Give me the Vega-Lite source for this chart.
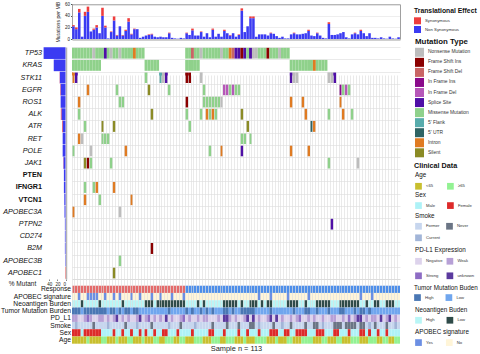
{
"$schema": "https://vega.github.io/schema/vega-lite/v6.json",
"width": 480, "height": 354,
"autosize": {"type": "none"},
"padding": 0,
"background": "white",
"config": {
  "font": "Liberation Sans",
  "view": {"stroke": null},
  "axis": {"labelFont": "Liberation Sans", "titleFont": "Liberation Sans", "labelColor": "#222", "titleColor": "#222", "titleFontWeight": "normal"},
  "legend": {"orient": "none", "padding": 0, "labelFont": "Liberation Sans", "titleFont": "Liberation Sans", "titleColor": "#111", "labelColor": "#333", "symbolType": "square", "symbolStrokeWidth": 0, "labelFontSize": 4.2, "titleFontSize": 6.3, "titleFontWeight": "normal", "symbolSize": 45, "labelOffset": 4, "direction": "vertical", "titleLimit": 200, "labelLimit": 100}
},
"datasets": {
"samples": [
{"s":0,"ns":22,"syn":2,"resp":"R","apo":"No","neo":"High","tmb":"High","pd":"Weak","smoke":"Former","sex":"Female","age":"<65"},
{"s":1,"ns":17,"syn":3,"resp":"R","apo":"No","neo":"High","tmb":"High","pd":"Weak","smoke":"Current","sex":"Female","age":"<65"},
{"s":2,"ns":46,"syn":6,"resp":"R","apo":"Yes","neo":"High","tmb":"High","pd":"Negative","smoke":"Former","sex":"Female","age":"<65"},
{"s":3,"ns":4,"syn":0,"resp":"R","apo":"No","neo":"Low","tmb":"Low","pd":"Negative","smoke":"Former","sex":"Male","age":"<65"},
{"s":4,"ns":40,"syn":7,"resp":"R","apo":"No","neo":"High","tmb":"High","pd":"Weak","smoke":"Former","sex":"Female","age":"<65"},
{"s":5,"ns":47,"syn":9,"resp":"R","apo":"Yes","neo":"High","tmb":"High","pd":"Strong","smoke":"Former","sex":"Female","age":"≥65"},
{"s":6,"ns":13,"syn":0,"resp":"R","apo":"Yes","neo":"High","tmb":"High","pd":"Weak","smoke":"Former","sex":"Female","age":"<65"},
{"s":7,"ns":16,"syn":2,"resp":"R","apo":"Yes","neo":"High","tmb":"High","pd":"Negative","smoke":"Never","sex":"Female","age":"<65"},
{"s":8,"ns":20,"syn":4,"resp":"R","apo":"Yes","neo":"High","tmb":"High","pd":"Negative","smoke":"Former","sex":"Female","age":"<65"},
{"s":9,"ns":10,"syn":0,"resp":"R","apo":"No","neo":"Low","tmb":"High","pd":"Weak","smoke":"Former","sex":"Female","age":"<65"},
{"s":10,"ns":40,"syn":14,"resp":"R","apo":"No","neo":"High","tmb":"High","pd":"Weak","smoke":"Former","sex":"Male","age":"≥65"},
{"s":11,"ns":20,"syn":3,"resp":"R","apo":"Yes","neo":"High","tmb":"High","pd":"Negative","smoke":"Former","sex":"Male","age":"≥65"},
{"s":12,"ns":1,"syn":0,"resp":"R","apo":"No","neo":"High","tmb":"Low","pd":"Weak","smoke":"Current","sex":"Male","age":"<65"},
{"s":13,"ns":12,"syn":1,"resp":"R","apo":"No","neo":"High","tmb":"High","pd":"Negative","smoke":"Former","sex":"Male","age":"<65"},
{"s":14,"ns":32,"syn":7,"resp":"R","apo":"Yes","neo":"High","tmb":"High","pd":"Weak","smoke":"Former","sex":"Female","age":"<65"},
{"s":15,"ns":6,"syn":1,"resp":"R","apo":"No","neo":"High","tmb":"Low","pd":"unknown","smoke":"Former","sex":"Male","age":"≥65"},
{"s":16,"ns":22,"syn":0,"resp":"R","apo":"Yes","neo":"High","tmb":"High","pd":"Negative","smoke":"Former","sex":"Male","age":"<65"},
{"s":17,"ns":6,"syn":1,"resp":"R","apo":"No","neo":"Low","tmb":"Low","pd":"Weak","smoke":"Former","sex":"Female","age":"<65"},
{"s":18,"ns":14,"syn":2,"resp":"R","apo":"No","neo":"High","tmb":"High","pd":"Negative","smoke":"Never","sex":"Male","age":"<65"},
{"s":19,"ns":30,"syn":6,"resp":"R","apo":"No","neo":"High","tmb":"High","pd":"Weak","smoke":"Former","sex":"Male","age":"≥65"},
{"s":20,"ns":8,"syn":1,"resp":"R","apo":"Yes","neo":"High","tmb":"Low","pd":"Negative","smoke":"Former","sex":"Female","age":"≥65"},
{"s":21,"ns":17,"syn":1,"resp":"R","apo":"No","neo":"High","tmb":"High","pd":"Negative","smoke":"Former","sex":"Male","age":"<65"},
{"s":22,"ns":17,"syn":0,"resp":"R","apo":"No","neo":"High","tmb":"High","pd":"Weak","smoke":"Current","sex":"Male","age":"<65"},
{"s":23,"ns":2,"syn":0,"resp":"R","apo":"Yes","neo":"High","tmb":"Low","pd":"unknown","smoke":"Former","sex":"Female","age":"<65"},
{"s":24,"ns":4,"syn":0,"resp":"R","apo":"No","neo":"High","tmb":"Low","pd":"Negative","smoke":"Former","sex":"Male","age":"≥65"},
{"s":25,"ns":6,"syn":0,"resp":"R","apo":"No","neo":"Low","tmb":"Low","pd":"Weak","smoke":"Former","sex":"Female","age":"<65"},
{"s":26,"ns":7,"syn":1,"resp":"R","apo":"No","neo":"Low","tmb":"Low","pd":"Strong","smoke":"Former","sex":"Male","age":"<65"},
{"s":27,"ns":8,"syn":1,"resp":"R","apo":"Yes","neo":"Low","tmb":"Low","pd":"Negative","smoke":"Never","sex":"Male","age":"<65"},
{"s":28,"ns":4,"syn":0,"resp":"R","apo":"No","neo":"High","tmb":"Low","pd":"Weak","smoke":"Former","sex":"Female","age":"≥65"},
{"s":29,"ns":3,"syn":0,"resp":"R","apo":"No","neo":"Low","tmb":"Low","pd":"Negative","smoke":"Former","sex":"Male","age":"≥65"},
{"s":30,"ns":4,"syn":0,"resp":"R","apo":"Yes","neo":"Low","tmb":"Low","pd":"Weak","smoke":"Former","sex":"Male","age":"<65"},
{"s":31,"ns":3,"syn":0,"resp":"R","apo":"No","neo":"Low","tmb":"Low","pd":"Negative","smoke":"Former","sex":"Female","age":"<65"},
{"s":32,"ns":3,"syn":0,"resp":"R","apo":"No","neo":"Low","tmb":"Low","pd":"unknown","smoke":"Former","sex":"Female","age":"≥65"},
{"s":33,"ns":10,"syn":1,"resp":"R","apo":"No","neo":"Low","tmb":"High","pd":"Negative","smoke":"Current","sex":"Male","age":"≥65"},
{"s":34,"ns":2,"syn":0,"resp":"R","apo":"Yes","neo":"Low","tmb":"Low","pd":"Weak","smoke":"Former","sex":"Male","age":"≥65"},
{"s":35,"ns":1,"syn":0,"resp":"R","apo":"No","neo":"Low","tmb":"Low","pd":"Negative","smoke":"Former","sex":"Male","age":"<65"},
{"s":36,"ns":0.5,"syn":0,"resp":"R","apo":"No","neo":"Low","tmb":"Low","pd":"Negative","smoke":"Former","sex":"Female","age":"<65"},
{"s":37,"ns":2,"syn":0,"resp":"R","apo":"No","neo":"Low","tmb":"Low","pd":"Weak","smoke":"Never","sex":"Male","age":"≥65"},
{"s":38,"ns":1,"syn":0,"resp":"R","apo":"Yes","neo":"Low","tmb":"Low","pd":"Strong","smoke":"Former","sex":"Male","age":"≥65"},
{"s":39,"ns":10,"syn":1,"resp":"NR","apo":"No","neo":"High","tmb":"High","pd":"Negative","smoke":"Former","sex":"Male","age":"<65"},
{"s":40,"ns":7,"syn":0,"resp":"NR","apo":"No","neo":"High","tmb":"Low","pd":"Weak","smoke":"Former","sex":"Male","age":"<65"},
{"s":41,"ns":15,"syn":3,"resp":"NR","apo":"No","neo":"High","tmb":"High","pd":"Negative","smoke":"Former","sex":"Female","age":"<65"},
{"s":42,"ns":6,"syn":0,"resp":"NR","apo":"No","neo":"High","tmb":"Low","pd":"Negative","smoke":"Current","sex":"Male","age":"≥65"},
{"s":43,"ns":6,"syn":0,"resp":"NR","apo":"No","neo":"Low","tmb":"Low","pd":"Weak","smoke":"Former","sex":"Male","age":"≥65"},
{"s":44,"ns":12,"syn":1,"resp":"NR","apo":"No","neo":"High","tmb":"High","pd":"Negative","smoke":"Former","sex":"Male","age":"≥65"},
{"s":45,"ns":4,"syn":0,"resp":"NR","apo":"No","neo":"Low","tmb":"Low","pd":"Weak","smoke":"Former","sex":"Male","age":"<65"},
{"s":46,"ns":10,"syn":0,"resp":"NR","apo":"No","neo":"High","tmb":"High","pd":"Weak","smoke":"Former","sex":"Male","age":"<65"},
{"s":47,"ns":3,"syn":0,"resp":"NR","apo":"No","neo":"High","tmb":"Low","pd":"Negative","smoke":"Former","sex":"Female","age":"<65"},
{"s":48,"ns":16,"syn":2,"resp":"NR","apo":"No","neo":"High","tmb":"High","pd":"Negative","smoke":"Never","sex":"Female","age":"≥65"},
{"s":49,"ns":4,"syn":0,"resp":"NR","apo":"No","neo":"High","tmb":"Low","pd":"Negative","smoke":"Former","sex":"Male","age":"≥65"},
{"s":50,"ns":9,"syn":0,"resp":"NR","apo":"No","neo":"High","tmb":"Low","pd":"Weak","smoke":"Former","sex":"Male","age":"≥65"},
{"s":51,"ns":4,"syn":0,"resp":"NR","apo":"No","neo":"High","tmb":"Low","pd":"Negative","smoke":"Former","sex":"Male","age":"<65"},
{"s":52,"ns":14,"syn":2,"resp":"NR","apo":"No","neo":"Low","tmb":"High","pd":"unknown","smoke":"Former","sex":"Female","age":"<65"},
{"s":53,"ns":10,"syn":0,"resp":"NR","apo":"No","neo":"Low","tmb":"High","pd":"unknown","smoke":"Never","sex":"Male","age":"≥65"},
{"s":54,"ns":6,"syn":1,"resp":"NR","apo":"No","neo":"Low","tmb":"Low","pd":"Weak","smoke":"Former","sex":"Male","age":"≥65"},
{"s":55,"ns":10,"syn":0,"resp":"NR","apo":"No","neo":"Low","tmb":"High","pd":"Negative","smoke":"Former","sex":"Male","age":"≥65"},
{"s":56,"ns":4,"syn":0,"resp":"NR","apo":"No","neo":"Low","tmb":"Low","pd":"Weak","smoke":"Former","sex":"Male","age":"<65"},
{"s":57,"ns":7,"syn":1,"resp":"NR","apo":"No","neo":"High","tmb":"Low","pd":"Negative","smoke":"Never","sex":"Female","age":"<65"},
{"s":58,"ns":49,"syn":4,"resp":"NR","apo":"No","neo":"Low","tmb":"High","pd":"Negative","smoke":"Former","sex":"Male","age":"<65"},
{"s":59,"ns":12,"syn":0,"resp":"NR","apo":"No","neo":"High","tmb":"High","pd":"Weak","smoke":"Former","sex":"Male","age":"≥65"},
{"s":60,"ns":22,"syn":0,"resp":"NR","apo":"No","neo":"High","tmb":"High","pd":"unknown","smoke":"Former","sex":"Female","age":"<65"},
{"s":61,"ns":36,"syn":3,"resp":"NR","apo":"No","neo":"Low","tmb":"High","pd":"Negative","smoke":"Never","sex":"Male","age":"<65"},
{"s":62,"ns":36,"syn":3,"resp":"NR","apo":"No","neo":"Low","tmb":"High","pd":"unknown","smoke":"Never","sex":"Male","age":"<65"},
{"s":63,"ns":4,"syn":0,"resp":"NR","apo":"No","neo":"Low","tmb":"Low","pd":"Negative","smoke":"Former","sex":"Male","age":"≥65"},
{"s":64,"ns":8,"syn":0,"resp":"NR","apo":"Yes","neo":"High","tmb":"Low","pd":"Weak","smoke":"Current","sex":"Female","age":"≥65"},
{"s":65,"ns":8,"syn":0,"resp":"NR","apo":"No","neo":"Low","tmb":"Low","pd":"Negative","smoke":"Former","sex":"Male","age":"≥65"},
{"s":66,"ns":8,"syn":0,"resp":"NR","apo":"No","neo":"High","tmb":"Low","pd":"Negative","smoke":"Former","sex":"Male","age":"≥65"},
{"s":67,"ns":6,"syn":0,"resp":"NR","apo":"No","neo":"Low","tmb":"Low","pd":"Weak","smoke":"Former","sex":"Male","age":"<65"},
{"s":68,"ns":10,"syn":1,"resp":"NR","apo":"Yes","neo":"Low","tmb":"High","pd":"unknown","smoke":"Former","sex":"Female","age":"<65"},
{"s":69,"ns":9,"syn":0,"resp":"NR","apo":"No","neo":"High","tmb":"Low","pd":"Negative","smoke":"Never","sex":"Female","age":"<65"},
{"s":70,"ns":5,"syn":0,"resp":"NR","apo":"No","neo":"High","tmb":"Low","pd":"unknown","smoke":"Former","sex":"Female","age":"≥65"},
{"s":71,"ns":2,"syn":0,"resp":"NR","apo":"No","neo":"High","tmb":"Low","pd":"Negative","smoke":"Former","sex":"Male","age":"<65"},
{"s":72,"ns":4,"syn":0,"resp":"NR","apo":"No","neo":"High","tmb":"Low","pd":"Weak","smoke":"Current","sex":"Male","age":"<65"},
{"s":73,"ns":1,"syn":0,"resp":"NR","apo":"No","neo":"High","tmb":"Low","pd":"Negative","smoke":"Former","sex":"Female","age":"<65"},
{"s":74,"ns":1,"syn":0,"resp":"NR","apo":"Yes","neo":"Low","tmb":"Low","pd":"Negative","smoke":"Former","sex":"Female","age":"≥65"},
{"s":75,"ns":8,"syn":0,"resp":"NR","apo":"No","neo":"Low","tmb":"Low","pd":"Weak","smoke":"Never","sex":"Male","age":"≥65"},
{"s":76,"ns":10,"syn":1,"resp":"NR","apo":"No","neo":"Low","tmb":"High","pd":"Negative","smoke":"Former","sex":"Male","age":"<65"},
{"s":77,"ns":8,"syn":0,"resp":"NR","apo":"No","neo":"Low","tmb":"Low","pd":"Weak","smoke":"Former","sex":"Female","age":"<65"},
{"s":78,"ns":8,"syn":0,"resp":"NR","apo":"No","neo":"High","tmb":"Low","pd":"Strong","smoke":"Former","sex":"Female","age":"<65"},
{"s":79,"ns":9,"syn":0,"resp":"NR","apo":"No","neo":"High","tmb":"Low","pd":"Negative","smoke":"Former","sex":"Female","age":"≥65"},
{"s":80,"ns":10,"syn":0,"resp":"NR","apo":"No","neo":"Low","tmb":"High","pd":"Negative","smoke":"Never","sex":"Female","age":"≥65"},
{"s":81,"ns":14,"syn":2,"resp":"NR","apo":"Yes","neo":"High","tmb":"High","pd":"Weak","smoke":"Former","sex":"Male","age":"≥65"},
{"s":82,"ns":6,"syn":0,"resp":"NR","apo":"No","neo":"High","tmb":"Low","pd":"Negative","smoke":"Former","sex":"Male","age":"≥65"},
{"s":83,"ns":5,"syn":0,"resp":"NR","apo":"No","neo":"High","tmb":"Low","pd":"Weak","smoke":"Never","sex":"Male","age":"<65"},
{"s":84,"ns":10,"syn":1,"resp":"NR","apo":"No","neo":"Low","tmb":"High","pd":"Negative","smoke":"Never","sex":"Female","age":"<65"},
{"s":85,"ns":6,"syn":0,"resp":"NR","apo":"No","neo":"Low","tmb":"Low","pd":"Negative","smoke":"Former","sex":"Female","age":"<65"},
{"s":86,"ns":2,"syn":0,"resp":"NR","apo":"No","neo":"Low","tmb":"Low","pd":"Weak","smoke":"Current","sex":"Female","age":"≥65"},
{"s":87,"ns":1,"syn":0,"resp":"NR","apo":"No","neo":"Low","tmb":"Low","pd":"Negative","smoke":"Former","sex":"Male","age":"≥65"},
{"s":88,"ns":26,"syn":3,"resp":"NR","apo":"No","neo":"Low","tmb":"High","pd":"Negative","smoke":"Former","sex":"Male","age":"<65"},
{"s":89,"ns":7,"syn":0,"resp":"NR","apo":"No","neo":"High","tmb":"Low","pd":"Weak","smoke":"Former","sex":"Male","age":"<65"},
{"s":90,"ns":7,"syn":0,"resp":"NR","apo":"No","neo":"High","tmb":"Low","pd":"Weak","smoke":"Never","sex":"Female","age":"<65"},
{"s":91,"ns":8,"syn":0,"resp":"NR","apo":"No","neo":"High","tmb":"Low","pd":"Negative","smoke":"Never","sex":"Female","age":"≥65"},
{"s":92,"ns":10,"syn":0,"resp":"NR","apo":"No","neo":"Low","tmb":"High","pd":"Negative","smoke":"Never","sex":"Male","age":"≥65"},
{"s":93,"ns":12,"syn":0,"resp":"NR","apo":"No","neo":"Low","tmb":"High","pd":"Weak","smoke":"Former","sex":"Male","age":"<65"},
{"s":94,"ns":3,"syn":0,"resp":"NR","apo":"No","neo":"Low","tmb":"Low","pd":"Negative","smoke":"Never","sex":"Male","age":"<65"},
{"s":95,"ns":1,"syn":0,"resp":"NR","apo":"No","neo":"Low","tmb":"Low","pd":"Strong","smoke":"Never","sex":"Female","age":"<65"},
{"s":96,"ns":8,"syn":0,"resp":"NR","apo":"No","neo":"Low","tmb":"Low","pd":"Negative","smoke":"Never","sex":"Male","age":"≥65"},
{"s":97,"ns":10,"syn":1,"resp":"NR","apo":"No","neo":"Low","tmb":"High","pd":"Weak","smoke":"Never","sex":"Male","age":"≥65"},
{"s":98,"ns":8,"syn":0,"resp":"NR","apo":"No","neo":"Low","tmb":"Low","pd":"unknown","smoke":"Former","sex":"Male","age":"≥65"},
{"s":99,"ns":14,"syn":2,"resp":"NR","apo":"Yes","neo":"High","tmb":"High","pd":"unknown","smoke":"Never","sex":"Female","age":"<65"},
{"s":100,"ns":10,"syn":0,"resp":"NR","apo":"No","neo":"High","tmb":"High","pd":"Negative","smoke":"Never","sex":"Female","age":"<65"},
{"s":101,"ns":5,"syn":0,"resp":"NR","apo":"No","neo":"Low","tmb":"Low","pd":"Weak","smoke":"Former","sex":"Male","age":"<65"},
{"s":102,"ns":10,"syn":0,"resp":"NR","apo":"No","neo":"High","tmb":"High","pd":"Negative","smoke":"Current","sex":"Female","age":"≥65"},
{"s":103,"ns":2,"syn":0,"resp":"NR","apo":"Yes","neo":"High","tmb":"Low","pd":"Weak","smoke":"Former","sex":"Male","age":"≥65"},
{"s":104,"ns":2,"syn":0,"resp":"NR","apo":"No","neo":"Low","tmb":"Low","pd":"Weak","smoke":"Never","sex":"Male","age":"≥65"},
{"s":105,"ns":1,"syn":0,"resp":"NR","apo":"No","neo":"Low","tmb":"Low","pd":"Negative","smoke":"Former","sex":"Female","age":"<65"},
{"s":106,"ns":3,"syn":0,"resp":"NR","apo":"No","neo":"High","tmb":"Low","pd":"unknown","smoke":"Former","sex":"Male","age":"<65"},
{"s":107,"ns":1,"syn":0,"resp":"NR","apo":"No","neo":"High","tmb":"Low","pd":"Negative","smoke":"Former","sex":"Male","age":"≥65"},
{"s":108,"ns":0.5,"syn":0,"resp":"NR","apo":"No","neo":"Low","tmb":"Low","pd":"Weak","smoke":"Never","sex":"Female","age":"≥65"},
{"s":109,"ns":4,"syn":0,"resp":"NR","apo":"No","neo":"Low","tmb":"Low","pd":"unknown","smoke":"Former","sex":"Male","age":"<65"},
{"s":110,"ns":1,"syn":0,"resp":"NR","apo":"No","neo":"Low","tmb":"Low","pd":"Negative","smoke":"Former","sex":"Male","age":"<65"},
{"s":111,"ns":0.5,"syn":0,"resp":"NR","apo":"No","neo":"High","tmb":"Low","pd":"Weak","smoke":"Current","sex":"Male","age":"≥65"},
{"s":112,"ns":3,"syn":0,"resp":"NR","apo":"No","neo":"High","tmb":"Low","pd":"Negative","smoke":"Former","sex":"Male","age":"≥65"}
],
"muts": [
{"s":0,"g":"TP53","t":"Missense Mutation"},{"s":1,"g":"TP53","t":"Missense Mutation"},{"s":2,"g":"TP53","t":"Missense Mutation"},{"s":3,"g":"TP53","t":"Missense Mutation"},{"s":4,"g":"TP53","t":"Missense Mutation"},{"s":5,"g":"TP53","t":"Missense Mutation"},{"s":6,"g":"TP53","t":"Missense Mutation"},{"s":7,"g":"TP53","t":"Nonsense Mutation"},{"s":8,"g":"TP53","t":"Missense Mutation"},{"s":9,"g":"TP53","t":"Missense Mutation"},{"s":10,"g":"TP53","t":"Missense Mutation"},{"s":11,"g":"TP53","t":"Splice Site"},{"s":12,"g":"TP53","t":"Missense Mutation"},{"s":13,"g":"TP53","t":"Nonsense Mutation"},{"s":14,"g":"TP53","t":"Missense Mutation"},{"s":15,"g":"TP53","t":"Missense Mutation"},{"s":16,"g":"TP53","t":"Nonsense Mutation"},{"s":17,"g":"TP53","t":"Missense Mutation"},{"s":18,"g":"TP53","t":"Missense Mutation"},{"s":19,"g":"TP53","t":"Missense Mutation"},{"s":20,"g":"TP53","t":"Missense Mutation"},{"s":21,"g":"TP53","t":"Intron"},{"s":22,"g":"TP53","t":"Missense Mutation"},{"s":23,"g":"TP53","t":"Missense Mutation"},{"s":24,"g":"TP53","t":"Missense Mutation"},
{"s":39,"g":"TP53","t":"Missense Mutation"},{"s":40,"g":"TP53","t":"Missense Mutation"},{"s":41,"g":"TP53","t":"Frame Shift Del"},{"s":42,"g":"TP53","t":"Missense Mutation"},{"s":43,"g":"TP53","t":"Missense Mutation"},{"s":44,"g":"TP53","t":"Nonsense Mutation"},{"s":45,"g":"TP53","t":"Missense Mutation"},{"s":46,"g":"TP53","t":"Missense Mutation"},{"s":47,"g":"TP53","t":"Missense Mutation"},{"s":48,"g":"TP53","t":"Missense Mutation"},{"s":49,"g":"TP53","t":"Missense Mutation"},{"s":50,"g":"TP53","t":"Missense Mutation"},{"s":51,"g":"TP53","t":"Nonsense Mutation"},{"s":52,"g":"TP53","t":"Missense Mutation"},{"s":53,"g":"TP53","t":"Missense Mutation"},{"s":54,"g":"TP53","t":"Intron"},{"s":55,"g":"TP53","t":"Frame Shift Del"},{"s":56,"g":"TP53","t":"Splice Site"},{"s":57,"g":"TP53","t":"Splice Site"},{"s":58,"g":"TP53","t":"Frame Shift Ins"},{"s":59,"g":"TP53","t":"Splice Site"},{"s":60,"g":"TP53","t":"Missense Mutation"},{"s":61,"g":"TP53","t":"Splice Site"},{"s":62,"g":"TP53","t":"Nonsense Mutation"},{"s":63,"g":"TP53","t":"Nonsense Mutation"},{"s":64,"g":"TP53","t":"Missense Mutation"},{"s":65,"g":"TP53","t":"Missense Mutation"},{"s":66,"g":"TP53","t":"Missense Mutation"},{"s":67,"g":"TP53","t":"Frame Shift Ins"},{"s":68,"g":"TP53","t":"Missense Mutation"},{"s":69,"g":"TP53","t":"Missense Mutation"},{"s":70,"g":"TP53","t":"Missense Mutation"},{"s":71,"g":"TP53","t":"Nonsense Mutation"},{"s":72,"g":"TP53","t":"Missense Mutation"},{"s":73,"g":"TP53","t":"Missense Mutation"},{"s":74,"g":"TP53","t":"Missense Mutation"},
{"s":0,"g":"KRAS","t":"Missense Mutation"},{"s":1,"g":"KRAS","t":"Missense Mutation"},{"s":2,"g":"KRAS","t":"Missense Mutation"},{"s":3,"g":"KRAS","t":"Missense Mutation"},{"s":4,"g":"KRAS","t":"Missense Mutation"},{"s":5,"g":"KRAS","t":"Missense Mutation"},{"s":6,"g":"KRAS","t":"Missense Mutation"},{"s":7,"g":"KRAS","t":"Missense Mutation"},{"s":8,"g":"KRAS","t":"Missense Mutation"},{"s":9,"g":"KRAS","t":"Missense Mutation"},{"s":25,"g":"KRAS","t":"Missense Mutation"},{"s":26,"g":"KRAS","t":"Missense Mutation"},{"s":27,"g":"KRAS","t":"Missense Mutation"},{"s":28,"g":"KRAS","t":"Missense Mutation"},{"s":29,"g":"KRAS","t":"Missense Mutation"},{"s":39,"g":"KRAS","t":"Missense Mutation"},{"s":40,"g":"KRAS","t":"Missense Mutation"},{"s":41,"g":"KRAS","t":"Missense Mutation"},{"s":42,"g":"KRAS","t":"Missense Mutation"},{"s":43,"g":"KRAS","t":"Missense Mutation"},{"s":75,"g":"KRAS","t":"Missense Mutation"},{"s":76,"g":"KRAS","t":"Missense Mutation"},{"s":77,"g":"KRAS","t":"Missense Mutation"},{"s":78,"g":"KRAS","t":"Missense Mutation"},{"s":79,"g":"KRAS","t":"Missense Mutation"},{"s":80,"g":"KRAS","t":"Missense Mutation"},{"s":81,"g":"KRAS","t":"Missense Mutation"},{"s":82,"g":"KRAS","t":"Missense Mutation"},{"s":83,"g":"KRAS","t":"Intron"},{"s":84,"g":"KRAS","t":"Missense Mutation"},{"s":85,"g":"KRAS","t":"Missense Mutation"},{"s":86,"g":"KRAS","t":"Missense Mutation"},{"s":87,"g":"KRAS","t":"Missense Mutation"},
{"s":0,"g":"STK11","t":"Intron"},{"s":1,"g":"STK11","t":"Splice Site"},{"s":25,"g":"STK11","t":"Missense Mutation"},{"s":30,"g":"STK11","t":"5' Flank"},{"s":31,"g":"STK11","t":"Nonsense Mutation"},{"s":32,"g":"STK11","t":"Splice Site"},{"s":39,"g":"STK11","t":"Frame Shift Ins"},{"s":40,"g":"STK11","t":"Frame Shift Ins"},{"s":44,"g":"STK11","t":"Nonsense Mutation"},{"s":75,"g":"STK11","t":"Splice Site"},{"s":76,"g":"STK11","t":"Nonsense Mutation"},{"s":77,"g":"STK11","t":"Nonsense Mutation"},{"s":88,"g":"STK11","t":"Nonsense Mutation"},{"s":89,"g":"STK11","t":"Nonsense Mutation"},{"s":90,"g":"STK11","t":"Splice Site"},
{"s":5,"g":"EGFR","t":"Intron"},{"s":15,"g":"EGFR","t":"Missense Mutation"},{"s":26,"g":"EGFR","t":"Silent"},{"s":33,"g":"EGFR","t":"Missense Mutation"},{"s":45,"g":"EGFR","t":"Missense Mutation"},{"s":52,"g":"EGFR","t":"In Frame Del"},{"s":53,"g":"EGFR","t":"In Frame Del"},{"s":54,"g":"EGFR","t":"Missense Mutation"},{"s":55,"g":"EGFR","t":"In Frame Del"},{"s":56,"g":"EGFR","t":"Missense Mutation"},{"s":57,"g":"EGFR","t":"Missense Mutation"},{"s":92,"g":"EGFR","t":"In Frame Ins"},{"s":93,"g":"EGFR","t":"Missense Mutation"},{"s":94,"g":"EGFR","t":"In Frame Del"},{"s":95,"g":"EGFR","t":"Missense Mutation"},
{"s":2,"g":"ROS1","t":"Intron"},{"s":16,"g":"ROS1","t":"Missense Mutation"},{"s":17,"g":"ROS1","t":"Missense Mutation"},{"s":39,"g":"ROS1","t":"Frame Shift Ins"},{"s":45,"g":"ROS1","t":"Missense Mutation"},{"s":46,"g":"ROS1","t":"Missense Mutation"},{"s":47,"g":"ROS1","t":"Missense Mutation"},{"s":48,"g":"ROS1","t":"Missense Mutation"},{"s":49,"g":"ROS1","t":"Missense Mutation"},{"s":50,"g":"ROS1","t":"Missense Mutation"},{"s":51,"g":"ROS1","t":"Nonsense Mutation"},{"s":75,"g":"ROS1","t":"Intron"},{"s":79,"g":"ROS1","t":"Intron"},{"s":92,"g":"ROS1","t":"Intron"},
{"s":2,"g":"ALK","t":"Missense Mutation"},{"s":27,"g":"ALK","t":"Silent"},{"s":39,"g":"ALK","t":"Missense Mutation"},{"s":44,"g":"ALK","t":"Missense Mutation"},{"s":46,"g":"ALK","t":"Intron"},{"s":47,"g":"ALK","t":"Missense Mutation"},{"s":48,"g":"ALK","t":"Intron"},{"s":49,"g":"ALK","t":"Missense Mutation"},{"s":58,"g":"ALK","t":"Silent"},{"s":80,"g":"ALK","t":"Intron"},{"s":88,"g":"ALK","t":"Missense Mutation"},{"s":93,"g":"ALK","t":"Intron"},{"s":96,"g":"ALK","t":"Missense Mutation"},
{"s":4,"g":"ATR","t":"Missense Mutation"},{"s":10,"g":"ATR","t":"Silent"},{"s":14,"g":"ATR","t":"Silent"},{"s":40,"g":"ATR","t":"Missense Mutation"},{"s":60,"g":"ATR","t":"Silent"},{"s":82,"g":"ATR","t":"5' UTR"},{"s":83,"g":"ATR","t":"Intron"},
{"s":2,"g":"RET","t":"Intron"},{"s":3,"g":"RET","t":"Nonsense Mutation"},{"s":10,"g":"RET","t":"Missense Mutation"},{"s":11,"g":"RET","t":"Missense Mutation"},{"s":12,"g":"RET","t":"Missense Mutation"},{"s":58,"g":"RET","t":"Missense Mutation"},{"s":59,"g":"RET","t":"Missense Mutation"},{"s":61,"g":"RET","t":"Missense Mutation"},
{"s":0,"g":"POLE","t":"Missense Mutation"},{"s":6,"g":"POLE","t":"Nonsense Mutation"},{"s":18,"g":"POLE","t":"Intron"},{"s":47,"g":"POLE","t":"Missense Mutation"},{"s":51,"g":"POLE","t":"Intron"},{"s":58,"g":"POLE","t":"Splice Site"},{"s":75,"g":"POLE","t":"Intron"},{"s":81,"g":"POLE","t":"Intron"},
{"s":4,"g":"JAK1","t":"Silent"},{"s":5,"g":"JAK1","t":"Frame Shift Ins"},{"s":6,"g":"JAK1","t":"Missense Mutation"},{"s":13,"g":"JAK1","t":"Missense Mutation"},{"s":88,"g":"JAK1","t":"Missense Mutation"},{"s":98,"g":"JAK1","t":"Nonsense Mutation"},
{"s":4,"g":"IFNGR1","t":"Missense Mutation"},{"s":7,"g":"IFNGR1","t":"Missense Mutation"},{"s":8,"g":"IFNGR1","t":"Intron"},{"s":14,"g":"IFNGR1","t":"Intron"},
{"s":4,"g":"VTCN1","t":"Intron"},{"s":9,"g":"VTCN1","t":"Missense Mutation"},{"s":20,"g":"VTCN1","t":"Intron"},
{"s":0,"g":"APOBEC3A","t":"Intron"},{"s":16,"g":"APOBEC3A","t":"Nonsense Mutation"},
{"s":89,"g":"PTPN2","t":"Splice Site"},
{"s":27,"g":"B2M","t":"Frame Shift Ins"},
{"s":16,"g":"APOBEC3B","t":"Missense Mutation"},
{"s":14,"g":"APOBEC1","t":"Silent"}
],
"pct": [
{"g":"TP53","ns":54,"syn":0},{"g":"KRAS","ns":29,"syn":0},{"g":"STK11","ns":14,"syn":0.5},{"g":"EGFR","ns":12,"syn":1},{"g":"ROS1","ns":12,"syn":0},{"g":"ALK","ns":10,"syn":1.5},{"g":"ATR","ns":7,"syn":1.5},{"g":"RET","ns":7,"syn":0},{"g":"POLE","ns":7,"syn":0},{"g":"JAK1","ns":5,"syn":0.5},{"g":"PTEN","ns":4,"syn":0},{"g":"IFNGR1","ns":4,"syn":0},{"g":"VTCN1","ns":3,"syn":0},{"g":"APOBEC3A","ns":2.5,"syn":0},{"g":"PTPN2","ns":1.5,"syn":0},{"g":"CD274","ns":1.5,"syn":0},{"g":"B2M","ns":1.5,"syn":0},{"g":"APOBEC3B","ns":1,"syn":0},{"g":"APOBEC1","ns":0,"syn":1}
]
},
"layer": [
{
 "data": {"name": "samples"},
 "transform": [{"fold": ["ns", "syn"], "as": ["k", "v"]}],
 "layer": [
  {
   "mark": {"type": "bar"},
   "encoding": {
    "x": {"field": "s", "type": "ordinal", "scale": {"range": [72, 400], "paddingInner": 0.12, "paddingOuter": 0.06}, "axis": {"orient": "bottom", "offset": -314.5, "labels": false, "ticks": false, "grid": false, "domain": true, "domainColor": "#a0a0a0", "domainWidth": 1, "title": null}},
    "y": {"field": "v", "type": "quantitative", "stack": "zero", "scale": {"domain": [0, 60], "range": [39, 4.3], "nice": false}, "axis": {"orient": "left", "offset": -72, "values": [0, 20, 40, 60], "labelFontSize": 4.5, "tickSize": 1.5, "tickColor": "#555", "labelPadding": 1, "grid": true, "gridColor": "#e2e2e2", "gridWidth": 0.6, "domain": true, "domainColor": "#a0a0a0", "title": "Mutations per MB", "titleFontSize": 5.2, "titlePadding": 4}},
    "color": {"field": "k", "type": "nominal", "scale": {"domain": ["syn", "ns"], "range": ["#EE3D3D", "#3B3BF2"]}, "legend": {"title": "Translational Effect", "titleFontWeight": "bold", "titleFontSize": 6.8, "legendX": 414, "legendY": 8.1, "titlePadding": 2.4, "rowPadding": 1.7, "symbolSize": 49, "labelFontSize": 4.3, "labelExpr": "datum.label == 'syn' ? 'Synonymous' : 'Non Synonymous'"}},
    "order": {"field": "k", "type": "nominal"}
   }
  },
  {
   "mark": {"type": "bar", "opacity": 0},
   "encoding": {
    "x": {"field": "s", "type": "ordinal", "axis": {"orient": "top", "offset": -4.3, "labels": false, "ticks": false, "grid": false, "domain": true, "domainColor": "#a0a0a0", "title": null}},
    "y": {"field": "v", "type": "quantitative", "stack": "zero", "axis": {"orient": "right", "offset": -80, "labels": false, "ticks": false, "grid": false, "domain": true, "domainColor": "#a0a0a0", "title": null}}
   }
  }
 ],
 "resolve": {"axis": {"x": "independent", "y": "independent"}}
},
{
 "layer": [
  {
   "data": {"name": "samples"},
   "mark": {"type": "rect", "opacity": 0},
   "encoding": {
    "x": {"field": "s", "type": "ordinal", "scale": {"range": [72, 400], "paddingInner": 0, "paddingOuter": 0}, "axis": {"orient": "bottom", "offset": -75, "labels": false, "ticks": false, "domain": true, "domainColor": "#dcdcdc", "grid": true, "gridColor": "#dcdcdc", "gridWidth": 0.6, "bandPosition": 0, "title": null}}
   }
  },
  {
   "data": {"name": "muts"},
   "mark": {"type": "rect"},
   "encoding": {
    "x": {"field": "s", "type": "ordinal", "scale": {"range": [72, 400], "paddingInner": 0, "paddingOuter": 0}},
    "y": {"field": "g", "type": "nominal", "scale": {"domain": ["TP53","KRAS","STK11","EGFR","ROS1","ALK","ATR","RET","POLE","JAK1","PTEN","IFNGR1","VTCN1","APOBEC3A","PTPN2","CD274","B2M","APOBEC3B","APOBEC1"], "range": [47, 279], "paddingInner": 0.1, "paddingOuter": 0.05}, "axis": {"orient": "left", "offset": -72, "labels": false, "ticks": false, "domain": false, "grid": true, "gridColor": "#dcdcdc", "gridWidth": 0.6, "bandPosition": 0, "title": null}},
    "color": {"field": "t", "type": "nominal", "scale": {"domain": ["Nonsense Mutation","Frame Shift Ins","Frame Shift Del","In Frame Ins","In Frame Del","Splice Site","Missense Mutation","5' Flank","5' UTR","Intron","Silent"], "range": ["#BDBDBD","#8B0000","#C96565","#8B0A8B","#B657B8","#4F0FA6","#8FD18B","#58ACAC","#2F6464","#E07B22","#8B8B25"]}, "legend": {"title": "Mutation Type", "titleFontWeight": "bold", "titleFontSize": 7.9, "legendX": 415, "legendY": 37.8, "titlePadding": 2.1, "rowPadding": 1.05, "symbolSize": 81, "labelFontSize": 4.9}}
   }
  }
 ]
},
{
 "data": {"name": "pct"},
 "transform": [{"fold": ["ns", "syn"], "as": ["k", "v"]}],
 "mark": {"type": "bar"},
 "encoding": {
  "y": {"field": "g", "type": "nominal", "scale": {"domain": ["TP53","KRAS","STK11","EGFR","ROS1","ALK","ATR","RET","POLE","JAK1","PTEN","IFNGR1","VTCN1","APOBEC3A","PTPN2","CD274","B2M","APOBEC3B","APOBEC1"], "range": [47, 279], "paddingInner": 0.04, "paddingOuter": 0.02}, "axis": {"orient": "left", "offset": -66, "ticks": false, "domain": true, "domainColor": "#b5b5b5", "domainWidth": 1.5, "labelPadding": 24.5, "labelFontSize": 7.2, "labelColor": "#111", "labelLimit": 100, "title": null,
    "labelFontStyle": {"condition": {"test": "indexof(['PTEN','IFNGR1','VTCN1'], datum.value) >= 0", "value": "normal"}, "value": "italic"},
    "labelFontWeight": {"condition": {"test": "indexof(['PTEN','IFNGR1','VTCN1'], datum.value) >= 0", "value": "bold"}, "value": "normal"}}},
  "x": {"field": "v", "type": "quantitative", "stack": "zero", "scale": {"domain": [0, 56], "range": [65.5, 42.8], "nice": false}, "axis": {"orient": "bottom", "offset": -75, "values": [0, 20, 40], "labelFontSize": 4.5, "tickSize": 1.5, "labelPadding": 0.5, "domain": false, "grid": false, "title": "% Mutant", "titleX": 22, "titleY": 4, "titleFontSize": 6.5, "titleAlign": "center", "titleBaseline": "middle"}},
  "color": {"field": "k", "type": "nominal", "scale": {"domain": ["syn", "ns"], "range": ["#EE3D3D", "#3B3BF2"]}, "legend": null},
  "order": {"field": "k", "type": "nominal"}
 }
},
{
 "data": {"name": "samples"},
 "mark": {"type": "rect"},
 "encoding": {
  "x": {"field": "s", "type": "ordinal", "scale": {"range": [72, 400], "paddingInner": 0, "paddingOuter": 0}, "axis": null},
  "y": {"datum": "Response", "type": "nominal", "scale": {"range": [285.7, 292.95]}, "axis": {"orient": "left", "offset": -72, "ticks": false, "domain": false, "labelPadding": 1.5, "labelFontSize": 6.7, "labelColor": "#111", "title": null}},
  "color": {"field": "resp", "type": "nominal", "scale": {"domain": ["R", "NR"], "range": ["#E46A6A", "#4D8EEA"]}, "legend": {"title": "Clinical Data", "titleFontWeight": "bold", "titleFontSize": 7.2, "symbolOpacity": 0, "symbolSize": 1, "labelExpr": "''", "rowPadding": 0, "legendX": 414, "legendY": 161.9}}
 }
},
{
 "data": {"name": "samples"},
 "mark": {"type": "rect"},
 "encoding": {
  "x": {"field": "s", "type": "ordinal", "scale": {"range": [72, 400], "paddingInner": 0, "paddingOuter": 0}, "axis": null},
  "y": {"datum": "APOBEC signature", "type": "nominal", "scale": {"range": [292.95, 300.2]}, "axis": {"orient": "left", "offset": -72, "ticks": false, "domain": false, "labelPadding": 1.5, "labelFontSize": 6.7, "labelColor": "#111", "title": null}},
  "color": {"field": "apo", "type": "nominal", "scale": {"domain": ["Yes", "No"], "range": ["#6C8FE3", "#FFF5D8"]}, "legend": {"title": "APOBEC signature", "legendX": 415, "legendY": 329, "titlePadding": 3.7, "columns": 2, "direction": "horizontal", "columnPadding": 12.8}}
 }
},
{
 "data": {"name": "samples"},
 "mark": {"type": "rect"},
 "encoding": {
  "x": {"field": "s", "type": "ordinal", "scale": {"range": [72, 400], "paddingInner": 0, "paddingOuter": 0}, "axis": null},
  "y": {"datum": "Neoantigen Burden", "type": "nominal", "scale": {"range": [300.2, 307.45]}, "axis": {"orient": "left", "offset": -72, "ticks": false, "domain": false, "labelPadding": 1.5, "labelFontSize": 6.7, "labelColor": "#111", "title": null}},
  "color": {"field": "neo", "type": "nominal", "scale": {"domain": ["High", "Low"], "range": ["#B9F6F6", "#2F4B49"]}, "legend": {"title": "Neoantigen Buden", "legendX": 415, "legendY": 306.6, "titlePadding": 3.8, "columns": 2, "direction": "horizontal", "columnPadding": 11.4}}
 }
},
{
 "data": {"name": "samples"},
 "mark": {"type": "rect"},
 "encoding": {
  "x": {"field": "s", "type": "ordinal", "scale": {"range": [72, 400], "paddingInner": 0, "paddingOuter": 0}, "axis": null},
  "y": {"datum": "Tumor Mutation Burden", "type": "nominal", "scale": {"range": [307.45, 314.7]}, "axis": {"orient": "left", "offset": -72, "ticks": false, "domain": false, "labelPadding": 1.5, "labelFontSize": 6.7, "labelColor": "#111", "title": null}},
  "color": {"field": "tmb", "type": "nominal", "scale": {"domain": ["High", "Low"], "range": ["#4A77B4", "#70A6EE"]}, "legend": {"title": "Tumor Mutation Buden", "legendX": 414, "legendY": 285, "titlePadding": 2.7, "columns": 2, "direction": "horizontal", "columnPadding": 11.4}}
 }
},
{
 "data": {"name": "samples"},
 "mark": {"type": "rect"},
 "encoding": {
  "x": {"field": "s", "type": "ordinal", "scale": {"range": [72, 400], "paddingInner": 0, "paddingOuter": 0}, "axis": null},
  "y": {"datum": "PD_L1", "type": "nominal", "scale": {"range": [314.7, 321.95]}, "axis": {"orient": "left", "offset": -72, "ticks": false, "domain": false, "labelPadding": 1.5, "labelFontSize": 6.7, "labelColor": "#111", "title": null}},
  "color": {"field": "pd", "type": "nominal", "scale": {"domain": ["Negative", "Weak", "Strong", "unknown"], "range": ["#DDD3EC", "#B7A0D6", "#8D6CC4", "#5B3A9E"]}, "legend": {"title": "PD-L1 Expression", "legendX": 415, "legendY": 247.3, "titlePadding": 4.1, "columns": 2, "direction": "horizontal", "columnPadding": 3.4, "rowPadding": 7.6}}
 }
},
{
 "data": {"name": "samples"},
 "mark": {"type": "rect"},
 "encoding": {
  "x": {"field": "s", "type": "ordinal", "scale": {"range": [72, 400], "paddingInner": 0, "paddingOuter": 0}, "axis": null},
  "y": {"datum": "Smoke", "type": "nominal", "scale": {"range": [321.95, 329.2]}, "axis": {"orient": "left", "offset": -72, "ticks": false, "domain": false, "labelPadding": 1.5, "labelFontSize": 6.7, "labelColor": "#111", "title": null}},
  "color": {"field": "smoke", "type": "nominal", "scale": {"domain": ["Former", "Never", "Current"], "range": ["#C7D6EE", "#6B7585", "#A2B5D8"]}, "legend": {"title": "Smoke", "legendX": 415, "legendY": 213.3, "titlePadding": 3.1, "columns": 2, "direction": "horizontal", "columnPadding": 6, "rowPadding": 4.6}}
 }
},
{
 "data": {"name": "samples"},
 "mark": {"type": "rect"},
 "encoding": {
  "x": {"field": "s", "type": "ordinal", "scale": {"range": [72, 400], "paddingInner": 0, "paddingOuter": 0}, "axis": null},
  "y": {"datum": "Sex", "type": "nominal", "scale": {"range": [329.2, 336.45]}, "axis": {"orient": "left", "offset": -72, "ticks": false, "domain": false, "labelPadding": 1.5, "labelFontSize": 6.7, "labelColor": "#111", "title": null}},
  "color": {"field": "sex", "type": "nominal", "scale": {"domain": ["Male", "Female"], "range": ["#AEF2F7", "#DD2A2A"]}, "legend": {"title": "Sex", "legendX": 415, "legendY": 192.3, "titlePadding": 3.4, "columns": 2, "direction": "horizontal", "columnPadding": 10.9}}
 }
},
{
 "data": {"name": "samples"},
 "mark": {"type": "rect"},
 "encoding": {
  "x": {"field": "s", "type": "ordinal", "scale": {"range": [72, 400], "paddingInner": 0, "paddingOuter": 0}, "axis": {"orient": "bottom", "offset": -10.3, "labels": false, "ticks": false, "domain": false, "grid": false, "title": "Sample n = 113", "titleFontSize": 7.4, "titlePadding": 1.2}},
  "y": {"datum": "Age", "type": "nominal", "scale": {"range": [336.45, 343.7]}, "axis": {"orient": "left", "offset": -72, "ticks": false, "domain": false, "labelPadding": 1.5, "labelFontSize": 6.7, "labelColor": "#111", "title": null}},
  "color": {"field": "age", "type": "nominal", "scale": {"domain": ["<65", "≥65"], "range": ["#C8BF2E", "#93F293"]}, "legend": {"title": "Age", "legendX": 415, "legendY": 172.3, "titlePadding": 4.1, "columns": 2, "direction": "horizontal", "columnPadding": 12.9}}
 }
}
],
"resolve": {"scale": {"x": "independent", "y": "independent", "color": "independent"}, "axis": {"x": "independent", "y": "independent"}, "legend": {"color": "independent"}}
}
